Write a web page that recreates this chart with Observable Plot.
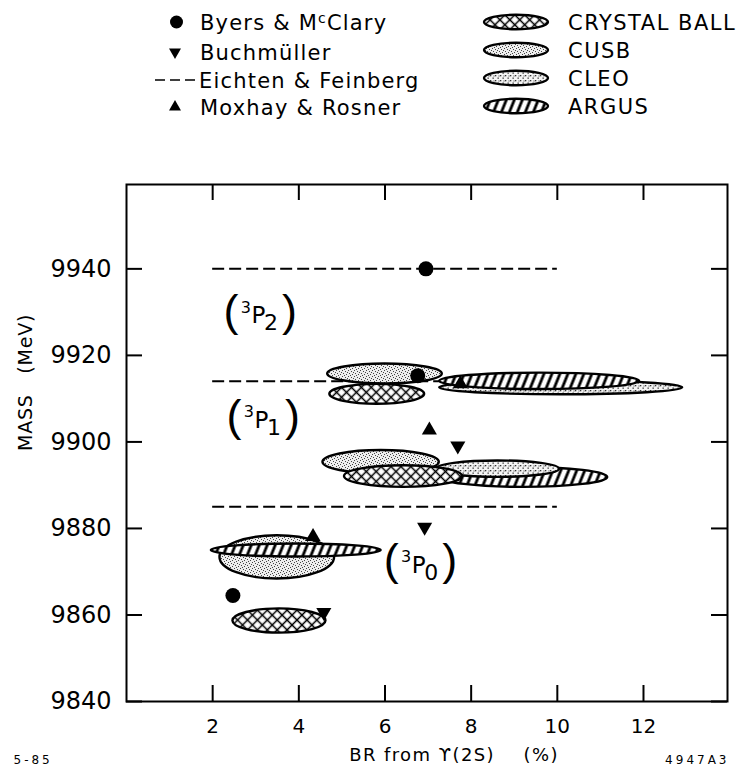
<!DOCTYPE html>
<html>
<head>
<meta charset="utf-8">
<script src="https://cdn.jsdelivr.net/npm/d3@7"></script>
<script src="https://cdn.jsdelivr.net/npm/@observablehq/plot@0.6"></script>
<style>
  body { margin: 0; background: #fff; }
  #page { position: relative; width: 745px; height: 772px; font-family: "DejaVu Sans", sans-serif; }
  .legend text { letter-spacing: 1.2px; }
  .legend text.exp { letter-spacing: 1.5px; }
  .code text { letter-spacing: 3px; }
  .xtitle text { letter-spacing: 1.4px; }
  .ytitle text { letter-spacing: 0.8px; }
</style>
</head>
<body>
<!-- fill patterns shared by the legend and the chart -->
<svg width="0" height="0" style="position:absolute">
  <defs>
    <pattern id="pat-crystal" patternUnits="userSpaceOnUse" width="7" height="7" patternTransform="rotate(45)">
      <rect width="7" height="7" fill="#fff"/>
      <path d="M0 3.5H7M3.5 0V7" stroke="#000" stroke-width="1.5"/>
    </pattern>
    <pattern id="pat-argus" patternUnits="userSpaceOnUse" width="7.4" height="8" patternTransform="rotate(22)">
      <rect width="7.4" height="8" fill="#fff"/>
      <path d="M3.7 0V8" stroke="#000" stroke-width="2.8"/>
    </pattern>
    <pattern id="pat-cusb" patternUnits="userSpaceOnUse" width="6" height="6">
      <rect width="6" height="6" fill="#eee"/>
      <g fill="#444">
        <rect x="0" y="0" width="1" height="1"/><rect x="3" y="1" width="1" height="1"/>
        <rect x="1" y="3" width="1" height="1"/><rect x="4" y="4" width="1" height="1"/>
        <rect x="5" y="2" width="1" height="1"/><rect x="2" y="5" width="1" height="1"/>
      </g>
    </pattern>
    <pattern id="pat-cleo" patternUnits="userSpaceOnUse" width="5" height="5">
      <rect width="5" height="5" fill="#f4f4f4"/>
      <g fill="#333">
        <rect x="0" y="0" width="1.3" height="1.3"/><rect x="2.5" y="2.5" width="1.3" height="1.3"/>
        <rect x="3.5" y="0.5" width="1" height="1"/>
      </g>
    </pattern>
  </defs>
</svg>
<div id="page"></div>
<script>
// Measured regions: centre (BR %, mass MeV) and half extents
const crystalBall = [
  {x: 5.82, y: 9911.0, dx: 1.10, dy: 2.3},
  {x: 6.43, y: 9892.0, dx: 1.37, dy: 2.5},
  {x: 3.55, y: 9858.6, dx: 1.08, dy: 2.8}
];
const cusb = [
  {x: 6.00, y: 9915.7, dx: 1.33, dy: 2.3},
  {x: 5.91, y: 9895.3, dx: 1.35, dy: 2.7},
  {x: 3.50, y: 9873.3, dx: 1.33, dy: 5.0}
];
const cleo = [
  {x: 10.09, y: 9912.5, dx: 2.82, dy: 1.6},
  {x: 8.62, y: 9893.7, dx: 1.43, dy: 1.9}
];
const argus = [
  {x: 9.59, y: 9914.0, dx: 2.32, dy: 1.9},
  {x: 9.22, y: 9891.8, dx: 1.95, dy: 2.3},
  {x: 3.94, y: 9874.9, dx: 1.97, dy: 1.5}
];

// Theory predictions
const byersMcClary = [
  {x: 6.95, y: 9940.0},
  {x: 6.76, y: 9915.3},
  {x: 2.47, y: 9864.5}
];
const buchmuller = [
  {x: 7.69, y: 9899.1},
  {x: 6.92, y: 9880.3},
  {x: 4.58, y: 9860.6}
];
const moxhayRosner = [
  {x: 7.75, y: 9913.4},
  {x: 7.03, y: 9902.7},
  {x: 4.33, y: 9878.1}
];
const eichtenFeinberg = [
  {y: 9940, x1: 2, x2: 10},
  {y: 9914, x1: 2, x2: 10},
  {y: 9885, x1: 2, x2: 10}
];

// Spectroscopic state labels
const stateLabels = [
  {x: 3.12, y: 9929.7, j: "2"},
  {x: 3.19, y: 9905.5, j: "1"},
  {x: 6.84, y: 9872.0, j: "0"}
];

const xDomain = [0, 13.95];
const yDomain = [9840, 9959.5];
const xTicks = [2, 4, 6, 8, 10, 12];
const yTicks = [9840, 9860, 9880, 9900, 9920, 9940];

const experiments = {
  crystal: {name: "CRYSTAL BALL", rows: crystalBall, pattern: "pat-crystal"},
  cusb: {name: "CUSB", rows: cusb, pattern: "pat-cusb"},
  cleo: {name: "CLEO", rows: cleo, pattern: "pat-cleo"},
  argus: {name: "ARGUS", rows: argus, pattern: "pat-argus"}
};
const legendOrder = ["crystal", "cusb", "cleo", "argus"];
// Overlapping regions are painted back to front in this order
const paintOrder = [
  ["cleo", 0], ["argus", 1], ["cusb", 2], ["argus", 0], ["argus", 2],
  ["cleo", 1], ["cusb", 0], ["cusb", 1], ["crystal", 0], ["crystal", 1], ["crystal", 2]
];

const triangleDown = {
  draw(context, size) {
    const h = Math.sqrt(size / (Math.sqrt(3) * 3));
    context.moveTo(0, 2 * h);
    context.lineTo(-Math.sqrt(3) * h, -h);
    context.lineTo(Math.sqrt(3) * h, -h);
    context.closePath();
  }
};

const font = "'DejaVu Sans', sans-serif";
const page = d3.select("#page");

// ---- legend ----
const legend = page.append("svg")
  .attr("class", "legend")
  .attr("width", 745).attr("height", 130)
  .style("display", "block")
  .attr("font-family", font).attr("font-size", 21);

const leftRows = [22, 52, 80, 107];
const rightRows = [22, 50, 78, 106];

legend.append("circle").attr("cx", 176.5).attr("cy", leftRows[0]).attr("r", 6.5);
const byersText = legend.append("text").attr("x", 200).attr("y", leftRows[0] + 7.6);
byersText.append("tspan").text("Byers & M");
byersText.append("tspan").attr("font-size", 14).attr("dy", -7).text("c");
byersText.append("tspan").attr("dy", 7).text("Clary");

legend.append("path")
  .attr("transform", `translate(175,${leftRows[1]})`)
  .attr("d", d3.symbol(triangleDown, 62)());
legend.append("text").attr("x", 200).attr("y", leftRows[1] + 7.6).text("Buchmüller");

legend.append("line")
  .attr("x1", 155).attr("x2", 197).attr("y1", leftRows[2]).attr("y2", leftRows[2])
  .attr("stroke", "#000").attr("stroke-width", 1.6).attr("stroke-dasharray", "10,5");
legend.append("text").attr("x", 199).attr("y", leftRows[2] + 7.6).text("Eichten & Feinberg");

legend.append("path")
  .attr("transform", `translate(175,${leftRows[3]})`)
  .attr("d", d3.symbol(d3.symbolTriangle, 62)());
legend.append("text").attr("x", 200).attr("y", leftRows[3] + 7.6).text("Moxhay & Rosner");

legendOrder.forEach((key, i) => {
  legend.append("ellipse")
    .attr("cx", 516).attr("cy", rightRows[i]).attr("rx", 32).attr("ry", 7.2)
    .attr("fill", `url(#${experiments[key].pattern})`)
    .attr("stroke", "#000").attr("stroke-width", 2.4);
  legend.append("text").attr("class", "exp")
    .attr("x", 568).attr("y", rightRows[i] + 7.6).text(experiments[key].name);
});

// ---- chart ----
// Measured regions as ellipses, positioned through the x and y scales
function regionMark(order) {
  return (index, {x, y}) => {
    const g = d3.create("svg:g").attr("stroke", "#000").attr("stroke-width", 2.4);
    for (const [key, i] of order) {
      const r = experiments[key].rows[i];
      const cx = x(r.x), cy = y(r.y);
      g.append("ellipse")
        .attr("cx", cx).attr("cy", cy)
        .attr("rx", Math.abs(x(r.x + r.dx) - cx))
        .attr("ry", Math.abs(y(r.y + r.dy) - cy))
        .attr("fill", `url(#${experiments[key].pattern})`);
    }
    return g.node();
  };
}

// Inward tick length, in data units (about 16 px on each axis)
const plotW = 745, plotH = 642;
const margins = {top: 54, right: 18, bottom: 71, left: 126};
const tickLenY = 16 * (yDomain[1] - yDomain[0]) / (plotH - margins.top - margins.bottom);
const tickLenX = 16 * (xDomain[1] - xDomain[0]) / (plotW - margins.left - margins.right);
const tickStyle = {stroke: "#000", strokeWidth: 2};

const labelStyle = {x: "x", y: "y", fill: "#000", fontFamily: font};

const chart = Plot.plot({
  width: plotW,
  height: plotH,
  marginTop: margins.top,
  marginBottom: margins.bottom,
  marginLeft: margins.left,
  marginRight: margins.right,
  style: {fontFamily: font, color: "#000", background: "#fff", overflow: "visible"},
  x: {domain: xDomain},
  y: {domain: yDomain},
  marks: [
    Plot.ruleY(eichtenFeinberg, {y: "y", x1: "x1", x2: "x2", stroke: "#000", strokeWidth: 2, strokeDasharray: "12,5"}),
    regionMark(paintOrder),
    Plot.dot(byersMcClary, {x: "x", y: "y", r: 7.5, fill: "#000"}),
    Plot.dot(moxhayRosner, {x: "x", y: "y", r: 5.6, symbol: "triangle", fill: "#000"}),
    Plot.dot(buchmuller, {x: "x", y: "y", r: 5.6, symbol: triangleDown, fill: "#000"}),
    Plot.text(stateLabels, {...labelStyle, text: () => "(", fontFamily: "'Liberation Sans', sans-serif", fontSize: 45, dx: -30, dy: -2}),
    Plot.text(stateLabels, {...labelStyle, text: () => ")", fontFamily: "'Liberation Sans', sans-serif", fontSize: 45, dx: 28.5, dy: -2}),
    Plot.text(stateLabels, {...labelStyle, text: () => "3", fontSize: 16, dx: -15, dy: -6}),
    Plot.text(stateLabels, {...labelStyle, text: () => "P", fontSize: 23, dx: -2.5, dy: 2.5}),
    Plot.text(stateLabels, {...labelStyle, text: "j", fontSize: 22, dx: 10, dy: 9.5}),
    Plot.frame({stroke: "#000", strokeWidth: 2}),
    // inward ticks on all four sides of the frame
    Plot.ruleX(xTicks, {x: (d) => d, y1: yDomain[0], y2: yDomain[0] + tickLenY, ...tickStyle}),
    Plot.ruleX(xTicks, {x: (d) => d, y1: yDomain[1] - tickLenY, y2: yDomain[1], ...tickStyle}),
    Plot.ruleY(yTicks, {y: (d) => d, x1: xDomain[0], x2: xDomain[0] + tickLenX, ...tickStyle}),
    Plot.ruleY(yTicks, {y: (d) => d, x1: xDomain[1] - tickLenX, x2: xDomain[1], ...tickStyle}),
    Plot.axisX({anchor: "bottom", ticks: xTicks, tickSize: 0, tickPadding: 17, fontSize: 20, tickFormat: (d) => String(d), label: null}),
    Plot.axisY({anchor: "left", ticks: yTicks, tickSize: 0, tickPadding: 15, fontSize: 24, tickFormat: (d) => String(d), label: null}),
    Plot.text(["BR from \u03D2(2S)\u00a0\u00a0\u00a0\u00a0(%)"], {text: (d) => d, frameAnchor: "bottom", dx: 27, dy: 59, fontSize: 18, className: "xtitle"}),
    Plot.text(["MASS\u00a0\u00a0\u00a0(MeV)"], {text: (d) => d, frameAnchor: "left", dx: -101, dy: 8, rotate: -90, fontSize: 19, className: "ytitle"}),
    Plot.text(["5-85"], {text: (d) => d, frameAnchor: "bottom-left", dx: -113, dy: 62, textAnchor: "start", fontSize: 12, className: "code"}),
    Plot.text(["4947A3"], {text: (d) => d, frameAnchor: "bottom-right", dx: 2, dy: 62, textAnchor: "end", fontSize: 12, className: "code"})
  ]
});
page.node().appendChild(chart);
</script>
</body>
</html>
